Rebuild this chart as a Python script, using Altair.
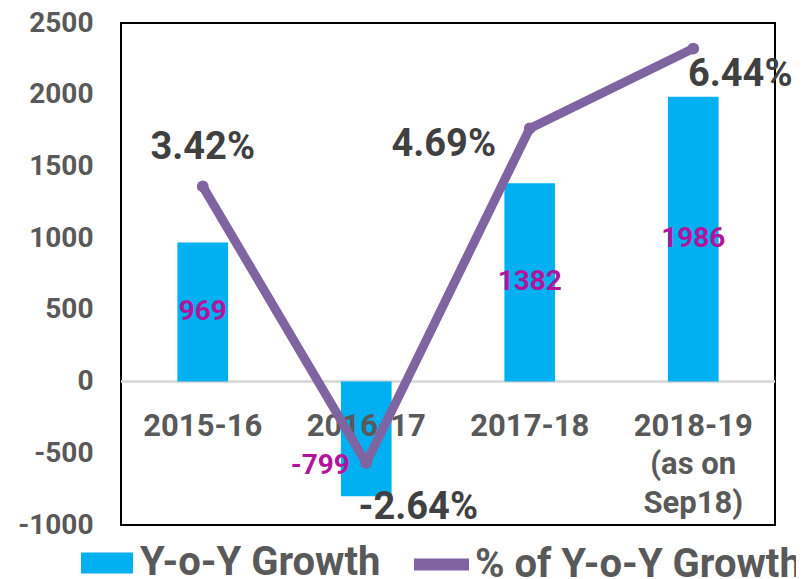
import altair as alt
import pandas as pd

# ---- data ----
periods = ["2015-16", "2016-17", "2017-18", "2018-19\n(as on\nSep18)"]
growth = [969, -799, 1382, 1986]
growth_labels = ["969", "-799", "1382", "1986"]
pct_growth = [3.42, -2.64, 4.69, 6.44]
pct_labels = ["3.42%", "-2.64%", "4.69%", "6.44%"]
y_ticks = [-1000, -500, 0, 500, 1000, 1500, 2000, 2500]
bar_series = "Y-o-Y Growth"
line_series = "% of Y-o-Y Growth"

df = pd.DataFrame({
    "period": periods,
    "growth": growth,
    "growth_label": growth_labels,
    "pct": pct_growth,
    "pct_label": pct_labels,
    "bar_series": bar_series,
    "line_series": line_series,
})

FONT = "Roboto"
BLUE = "#00B0F0"
PURPLE = "#8064A2"
GRAY = "#595959"
DARK = "#404040"
MAGENTA = "#B4149C"

x_enc = alt.X("period:N", sort=periods, axis=None,
              scale=alt.Scale(paddingInner=0.69, paddingOuter=0.345))
y_left = alt.Scale(domain=[-1000, 2500], nice=False)
y_right = alt.Scale(domain=[-4, 7], nice=False)

base = alt.Chart(df)

zero_rule = base.mark_rule(color="#D9D9D9", strokeWidth=2).encode(y=alt.datum(0))

bars = base.mark_bar().encode(
    x=x_enc,
    y=alt.Y("growth:Q", scale=y_left, title=None,
            axis=alt.Axis(values=y_ticks, grid=False, ticks=False, domain=False,
                          labelFont=FONT, labelFontSize=28, labelFontWeight="bold",
                          labelColor=GRAY, labelPadding=28, minExtent=100, maxExtent=100,
                          labelExpr="datum.value + ''")),
    fill=alt.Fill("bar_series:N", scale=alt.Scale(range=[BLUE]),
                  legend=alt.Legend(title=None, orient="none", legendX=-40, legendY=514,
                                    symbolType="M-1,-0.4H1V0.4H-1Z", symbolSize=2704,
                                    symbolStrokeWidth=0, labelFont=FONT, labelFontSize=40,
                                    labelFontWeight="bold", labelColor=GRAY, labelOffset=7,
                                    labelLimit=600, padding=0)),
)

cat_text = base.mark_text(font=FONT, fontSize=31, fontWeight="bold", color=GRAY,
                          baseline="alphabetic", align="center", dy=54,
                          lineBreak="\n", lineHeight=38.5).encode(
    x=x_enc, y=alt.datum(0), text="period:N")

val_pos = base.transform_filter(alt.datum.growth >= 0).transform_calculate(
    half="datum.growth / 2").mark_text(
    font=FONT, fontSize=28, fontWeight="bold", color=MAGENTA, baseline="middle").encode(
    x=x_enc, y=alt.Y("half:Q"), text="growth_label:N")

val_neg = base.transform_filter(alt.datum.growth < 0).transform_calculate(
    half="datum.growth / 2").mark_text(
    font=FONT, fontSize=28, fontWeight="bold", color=MAGENTA, baseline="middle",
    dx=-46, dy=27).encode(
    x=x_enc, y=alt.Y("half:Q"), text="growth_label:N")

left_layer = alt.layer(zero_rule, bars, cat_text, val_pos, val_neg)

line = base.mark_line(strokeWidth=9, strokeCap="round", strokeJoin="round").encode(
    x=x_enc,
    y=alt.Y("pct:Q", scale=y_right, axis=None),
    stroke=alt.Stroke("line_series:N", scale=alt.Scale(range=[PURPLE]),
                      legend=alt.Legend(title=None, orient="none", legendX=287, legendY=508,
                                        symbolType="stroke", symbolSize=3025,
                                        symbolStrokeWidth=12, labelFont=FONT, labelFontSize=40,
                                        labelFontWeight="bold", labelColor=GRAY, labelOffset=0,
                                        labelLimit=600, padding=0)),
)

points = base.mark_circle(size=140, color=PURPLE, opacity=1).encode(
    x=x_enc, y=alt.Y("pct:Q", scale=y_right, axis=None))

offsets = [(0, -38), (52, 45), (-86, 17), (47, 26)]
pct_layers = []
for p, (dx, dy) in zip(periods, offsets):
    pct_layers.append(
        base.transform_filter(alt.datum.period == p).mark_text(
            font=FONT, fontSize=38, fontWeight="bold", color=DARK,
            baseline="middle", align="center", dx=dx, dy=dy).encode(
            x=x_enc, y=alt.Y("pct:Q", scale=y_right, axis=None), text="pct_label:N")
    )

right_layer = alt.layer(line, points, *pct_layers)

chart = alt.layer(left_layer, right_layer).resolve_scale(y="independent").properties(
    width=654, height=502,
    autosize=alt.AutoSizeParams(type="none"),
    padding={"left": 113, "top": 15, "right": 21, "bottom": 54},
).configure_view(stroke="black", strokeWidth=2)

chart.save("out.html", embed_options={"renderer": "svg", "actions": False})
